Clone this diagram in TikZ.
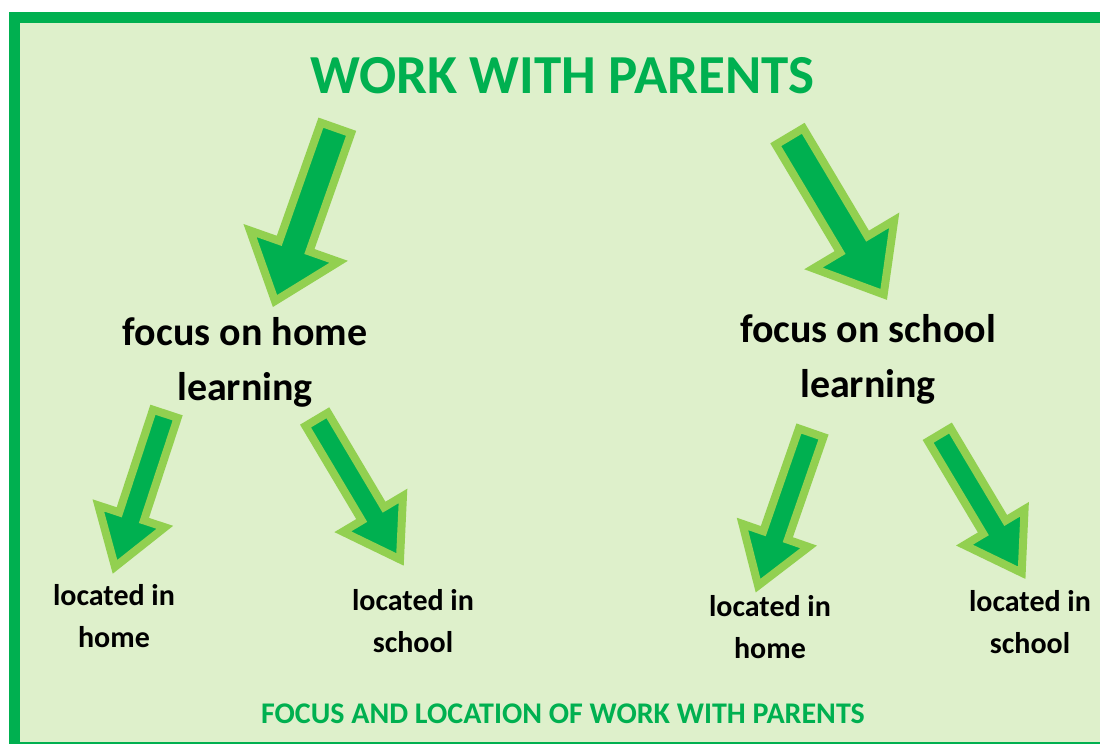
\documentclass[tikz,border=0pt]{standalone}
\usepackage{fontspec}
\setmainfont{Carlito}
\usetikzlibrary{calc}

\definecolor{darkgreen}{RGB}{0,176,80}
\definecolor{lightgreen}{RGB}{146,208,80}
\definecolor{paper}{RGB}{222,240,203}

\tikzset{
  arrowbox/.style={fill=darkgreen, draw=lightgreen, line width=4pt, line join=miter},
  heading/.style={text=darkgreen, font=\fontsize{27.5}{33}\selectfont\bfseries, inner sep=0pt},
  focus/.style={font=\fontsize{20}{27.5}\selectfont\bfseries, align=center, inner sep=0pt},
  place/.style={font=\fontsize{15}{21}\selectfont\bfseries, align=center, inner sep=0pt},
  caption/.style={text=darkgreen, font=\fontsize{15}{18}\selectfont\bfseries, inner sep=0pt}
}

% block arrow: tail, tip, shaft half width, head half width, head length
\newcommand\blockarrow[5]{%
  \filldraw[arrowbox] let \p1=($(#2)-(#1)$), \n1={atan2(\y1,\x1)}, \n2={veclen(\x1,\y1)} in
    ([shift={(#1)},rotate=\n1]0pt,#3) -- ([shift={(#1)},rotate=\n1]{\n2-#5},#3)
    -- ([shift={(#1)},rotate=\n1]{\n2-#5},#4) -- (#2)
    -- ([shift={(#1)},rotate=\n1]{\n2-#5},-#4) -- ([shift={(#1)},rotate=\n1]{\n2-#5},-#3)
    -- ([shift={(#1)},rotate=\n1]0pt,-#3) -- cycle;}

\begin{document}
\begin{tikzpicture}[x=0.5pt,y=-0.5pt]

\useasboundingbox (0,0) rectangle (1100,744);
\clip (0,0) rectangle (1100,744);

% Frame
\draw[darkgreen, line width=5.5pt, fill=paper] (14.5,17.5) rectangle (1108,747);

% Texts (base = last line)
\node[heading, anchor=base] (title) at (562.5,93) {WORK WITH PARENTS};
\node[focus, anchor=base] (homefocus) at (245,400) {focus on home\\learning};
\node[focus, anchor=base] (schoolfocus) at (868,397) {focus on school\\learning};
\node[place, anchor=base] (hh) at (114,647) {located in\\home};
\node[place, anchor=base] (hs) at (413,652) {located in\\school};
\node[place, anchor=base] (sh) at (770,658) {located in\\home};
\node[place, anchor=base] (ss) at (1030,653) {located in\\school};
\node[caption, anchor=base] (footer) at (563,723) {FOCUS AND LOCATION OF WORK WITH PARENTS};

% Arrow ends
\coordinate (t1) at (336,128);   \coordinate (p1) at (275,301);
\coordinate (t2) at (789.5,136.5); \coordinate (p2) at (883.7,294.4);
\coordinate (t3) at (165.3,413.8); \coordinate (p3) at (115,566.8);
\coordinate (t4) at (316.7,419.4); \coordinate (p4) at (400,559.4);
\coordinate (t5) at (811.2,432.8); \coordinate (p5) at (758.1,585.6);
\coordinate (t6) at (939.3,434.7); \coordinate (p6) at (1021.7,572.7);

% Arrows
\blockarrow{t1}{p1}{8pt}{23.5pt}{29pt}
\blockarrow{t2}{p2}{8pt}{23.5pt}{29pt}
\blockarrow{t3}{p3}{6.5pt}{17.5pt}{26.5pt}
\blockarrow{t4}{p4}{6.5pt}{17.5pt}{26.5pt}
\blockarrow{t5}{p5}{6.5pt}{17.5pt}{26.5pt}
\blockarrow{t6}{p6}{6.5pt}{17.5pt}{26.5pt}

\end{tikzpicture}
\end{document}
